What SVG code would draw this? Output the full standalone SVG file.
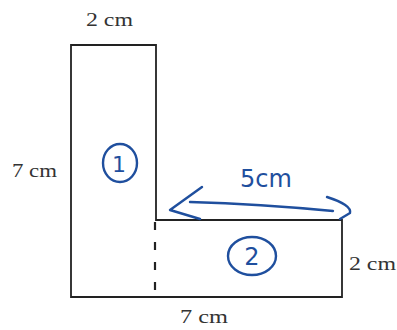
<svg xmlns="http://www.w3.org/2000/svg" width="397" height="330" viewBox="0 0 397 330">
<style>
.shape{fill:none;stroke:#222;stroke-width:1.8}
.lbl{font-family:"Liberation Serif","Times New Roman",serif;font-size:18px;fill:#333}
.ink{fill:none;stroke:#1f4f9e;stroke-width:2.4;stroke-linecap:round;stroke-linejoin:round}
.hand{font-family:"DejaVu Sans","Liberation Sans",sans-serif;fill:#1f4f9e}
</style>
<rect width="397" height="330" fill="#fff"/>
<g id="shape-L">
<path class="shape" d="M71,45 H156 V220 H342 V297 H71 Z"/>
<line x1="155" y1="222" x2="155" y2="297" stroke="#222" stroke-width="2.2" stroke-dasharray="8,12"/>
</g>
<g id="label-top"><text class="lbl" x="86" y="26" textLength="47" lengthAdjust="spacingAndGlyphs">2 cm</text></g>
<g id="label-left"><text class="lbl" x="12" y="177" textLength="45" lengthAdjust="spacingAndGlyphs">7 cm</text></g>
<g id="label-right"><text class="lbl" x="349" y="270" textLength="47" lengthAdjust="spacingAndGlyphs">2 cm</text></g>
<g id="label-bottom"><text class="lbl" x="180" y="323" textLength="48" lengthAdjust="spacingAndGlyphs">7 cm</text></g>
<g id="part-1">
<ellipse class="ink" cx="120" cy="163" rx="17" ry="19"/>
<text class="hand" x="119" y="172" font-size="22" text-anchor="middle">1</text>
</g>
<g id="part-2">
<ellipse class="ink" cx="252" cy="256" rx="24" ry="19"/>
<text class="hand" x="252" y="265" font-size="24" text-anchor="middle">2</text>
</g>
<g id="connectors">
<path class="ink" d="M190,202 Q260,204 333,211"/>
<path class="ink" d="M202,187 L170,210 L200,219"/>
<path class="ink" d="M327,197 Q352,205 350,213 L340,219"/>
</g>
<g id="label-5cm"><text class="hand" x="266" y="187" font-size="24" text-anchor="middle">5cm</text></g>
</svg>
